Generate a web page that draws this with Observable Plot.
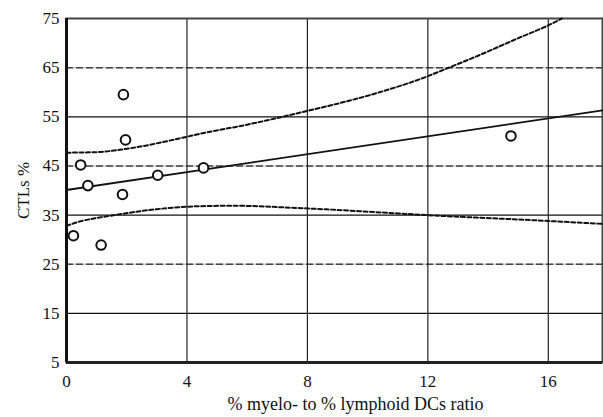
<!DOCTYPE html>
<html><head><meta charset="utf-8">
<script src="https://cdn.jsdelivr.net/npm/d3@7"></script>
<script src="https://cdn.jsdelivr.net/npm/@observablehq/plot@0.6"></script>
<style>
body{margin:0;background:#fff}
svg, svg text { font-family: "Liberation Serif", "Times New Roman", serif !important; }
</style>
</head><body><div id="chart"></div>
<script>
const xTicks = [0, 4, 8, 12, 16];
const yTicks = [5, 15, 25, 35, 45, 55, 65, 75];
const solidGridY = [15, 35, 55];
const dashedGridY = [25, 45, 65];
const gridX = [4, 8, 12, 16];
const xDomain = [0, 17.8];
const yDomain = [5, 75];
const xLabel = "% myelo- to % lymphoid DCs ratio";
const yLabel = "CTLs %";

const ratio = [0.23, 0.47, 0.71, 1.15, 1.89, 1.96, 1.86, 3.03, 4.55, 14.76];
const ctl   = [30.8, 45.2, 41.0, 28.9, 59.5, 50.3, 39.2, 43.1, 44.6, 51.1];

const fitX = [0, 17.8];
const fitY = [40.1, 56.3];

const upperX = [0, 1, 1.9, 3.9, 4.4, 6, 7.8, 10.4, 11.8, 12.7, 14, 15, 16, 16.45];
const upperY = [47.7, 47.8, 48.4, 50.8, 51.5, 53.4, 55.9, 60, 62.8, 65, 68.3, 71, 73.6, 75];

const lowerX = [0, 0.44, 1.1, 1.8, 3, 4.4, 5.5, 7.8, 11.1, 11.8, 16, 17.8];
const lowerY = [32.8, 33.7, 34.5, 35.2, 36.2, 36.8, 36.9, 36.4, 35.3, 35.05, 33.8, 33.2];

const points = ratio.map((x, i) => ({x, y: ctl[i]}));
const fit = fitX.map((x, i) => ({x, y: fitY[i]}));
const upper = upperX.map((x, i) => ({x, y: upperY[i]}));
const lower = lowerX.map((x, i) => ({x, y: lowerY[i]}));

const chart = Plot.plot({
  width: 603,
  height: 417,
  marginLeft: 66,
  marginRight: 1,
  marginTop: 18,
  marginBottom: 55,
  style: {fontFamily: "'Liberation Serif', serif", fontSize: "17px", background: "#fff", color: "#111"},
  x: {domain: xDomain},
  y: {domain: yDomain},
  marks: [
    Plot.ruleY(dashedGridY, {stroke: "#c8c8c8", strokeWidth: 1.5}),
    Plot.ruleY(dashedGridY, {stroke: "#444", strokeWidth: 1.5, strokeDasharray: "7,3"}),
    Plot.ruleY(solidGridY, {stroke: "#111", strokeWidth: 1.2}),
    Plot.ruleX(gridX, {stroke: "#222", strokeWidth: 1.2}),
    Plot.frame({stroke: "#444", strokeWidth: 2}),
    Plot.ruleX([xDomain[0]], {stroke: "#111", strokeWidth: 3}),
    Plot.ruleY([yDomain[0]], {stroke: "#222", strokeWidth: 3}),
    Plot.line(upper, {x: "x", y: "y", curve: "monotone-x", stroke: "#111", strokeWidth: 2, strokeDasharray: "4,2.5"}),
    Plot.line(lower, {x: "x", y: "y", curve: "monotone-x", stroke: "#111", strokeWidth: 2, strokeDasharray: "4,2.5"}),
    Plot.line(fit, {x: "x", y: "y", stroke: "#111", strokeWidth: 1.8}),
    Plot.dot(points, {x: "x", y: "y", r: 4.8, stroke: "#111", strokeWidth: 2, fill: "#fff"}),
    Plot.axisX({ticks: xTicks, tickSize: 0, tickPadding: 12, fontSize: 17, label: null}),
    Plot.text([xLabel], {frameAnchor: "bottom", dy: 47, dx: 21, fontSize: 18, fill: "#111"}),
    Plot.axisY({ticks: yTicks, tickSize: 0, tickPadding: 7, fontSize: 17,
      label: yLabel, labelAnchor: "center", labelArrow: "none", labelOffset: 50})
  ]
});
document.getElementById("chart").appendChild(chart);
</script>
</body></html>
